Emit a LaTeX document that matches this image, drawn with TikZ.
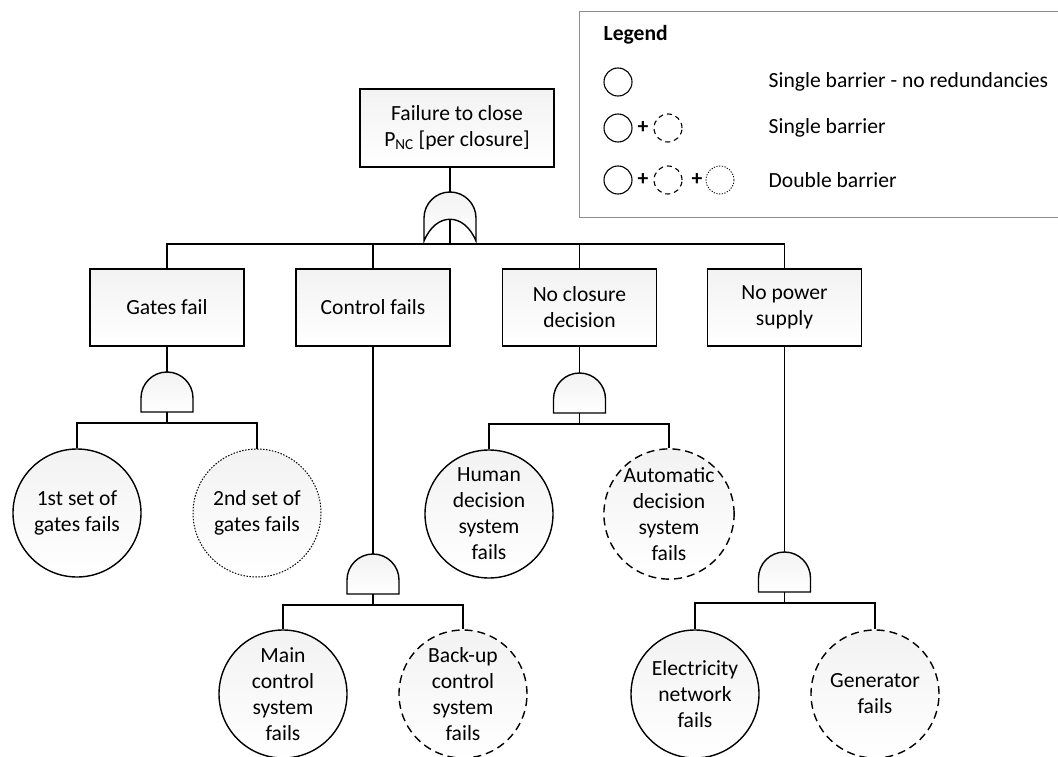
\documentclass[tikz,border=0pt]{standalone}
\usepackage{fontspec}
\setmainfont{Carlito}
\begin{document}
\begin{tikzpicture}[
  x=1pt, y=-1pt,
  line width=1.4pt,
  txt/.style={font=\fontsize{21.6pt}{26pt}\selectfont},
  shade box/.style={top color=black!5, bottom color=white},
  event/.style={draw, shade box, txt, minimum width=154pt, minimum height=77pt, align=center, inner sep=2pt},
  basic/.style={draw, circle, shade box, txt, minimum size=128pt, inner sep=0pt, align=center},
  backup/.style={basic, dash pattern=on 8pt off 5pt},
  spare/.style={basic, line width=1pt, dash pattern=on 1.5pt off 1.5pt},
  key/.style={draw, circle, minimum size=28pt, inner sep=0pt, line width=1.1pt},
  andgate/.pic={
    \draw[shade box] (-26,40) -- (-26,26) arc[start angle=180, end angle=0, radius=26pt] -- (26,40) -- cycle;
    \coordinate (-in) at (0,0);
    \coordinate (-out) at (0,40);
    \coordinate (-bus) at (0,51);
  },
  orgate/.pic={
    \draw[shade box] (-26,49) -- (-26,26) arc[start angle=180, end angle=0, radius=26pt] -- (26,49)
      .. controls (14,20) and (-14,20) .. cycle;
    \coordinate (-in) at (0,0);
    \coordinate (-out) at (0,27);
    \coordinate (-bus) at (0,52);
  }
]
  \useasboundingbox (0,0) rectangle (1058,757);

  % legend
  \draw[draw=black!45, line width=1pt] (579,12) rectangle (1080,217);
  \node[txt, anchor=west, inner sep=0pt, font=\fontsize{21.6pt}{26pt}\selectfont\bfseries] (ltitle) at (603,35) {Legend};
  \node[key] (k1) at (618,82) {};
  \node[key] (k2) at (618,128) {};
  \node[txt, inner sep=0pt] (p2) at (643,128) {\textbf{+}};
  \node[key, dash pattern=on 5pt off 4pt] (k3) at (668,128) {};
  \node[key] (k4) at (618,180) {};
  \node[txt, inner sep=0pt] (p4) at (643,180) {\textbf{+}};
  \node[key, dash pattern=on 5pt off 4pt] (k5) at (668,180) {};
  \node[txt, inner sep=0pt] (p5) at (697,180) {\textbf{+}};
  \node[key, line width=0.9pt, dash pattern=on 1.2pt off 1.5pt] (k6) at (720,180) {};
  \node[txt, anchor=west, inner sep=0pt] (l1) at (768,82) {Single barrier - no redundancies};
  \node[txt, anchor=west, inner sep=0pt] (l2) at (768,128) {Single barrier};
  \node[txt, anchor=west, inner sep=0pt] (l3) at (768,180) {Double barrier};

  % top event
  \node[event, minimum width=194pt, minimum height=78pt] (top) at (457,128)
    {Failure to close\\P\textsubscript{NC} [per closure]};
  \pic (gor) at (450,192) {orgate};

  % intermediate events
  \node[event] (gf) at (167,307.5) {Gates fail};
  \node[event] (cf) at (373,307.5) {Control fails};
  \node[event] (nd) at (579.5,307.5) {No closure\\decision};
  \node[event] (np) at (784.5,307.5) {No power\\supply};

  \pic (ga) at (167,372) {andgate};
  \pic (gc) at (373,554) {andgate};
  \pic (gd) at (579.5,373) {andgate};
  \pic (gp) at (784.5,552) {andgate};

  % basic events
  \node[basic] (g1) at (77,513) {1st set of\\gates fails};
  \node[spare] (g2) at (257,513) {2nd set of\\gates fails};
  \node[basic] (c1) at (283,694) {Main\\control\\system\\fails};
  \node[backup] (c2) at (463,694) {Back-up\\control\\system\\fails};
  \node[basic] (d1) at (489,514) {Human\\decision\\system\\fails};
  \node[backup] (d2) at (669,514) {Automatic\\decision\\system\\fails};
  \node[basic] (p1) at (695,694) {Electricity\\network\\fails};
  \node[backup] (p2b) at (875,694) {Generator\\fails};

  % connectors
  \draw (top.south -| gor-in) -- (gor-in);
  \draw (gor-out) -- (gor-bus);
  \foreach \n in {gf,cf,nd,np}
    \draw (gor-bus) -| (\n.north);

  \draw (gf.south) -- (ga-in);
  \draw (ga-out) -- (ga-bus) -| (g1.north);
  \draw (ga-bus) -| (g2.north);

  \draw (cf.south) -- (gc-in);
  \draw (gc-out) -- (gc-bus) -| (c1.north);
  \draw (gc-bus) -| (c2.north);

  \draw (nd.south) -- (gd-in);
  \draw (gd-out) -- (gd-bus) -| (d1.north);
  \draw (gd-bus) -| (d2.north);

  \draw (np.south) -- (gp-in);
  \draw (gp-out) -- (gp-bus) -| (p1.north);
  \draw (gp-bus) -| (p2b.north);
\end{tikzpicture}
\end{document}
